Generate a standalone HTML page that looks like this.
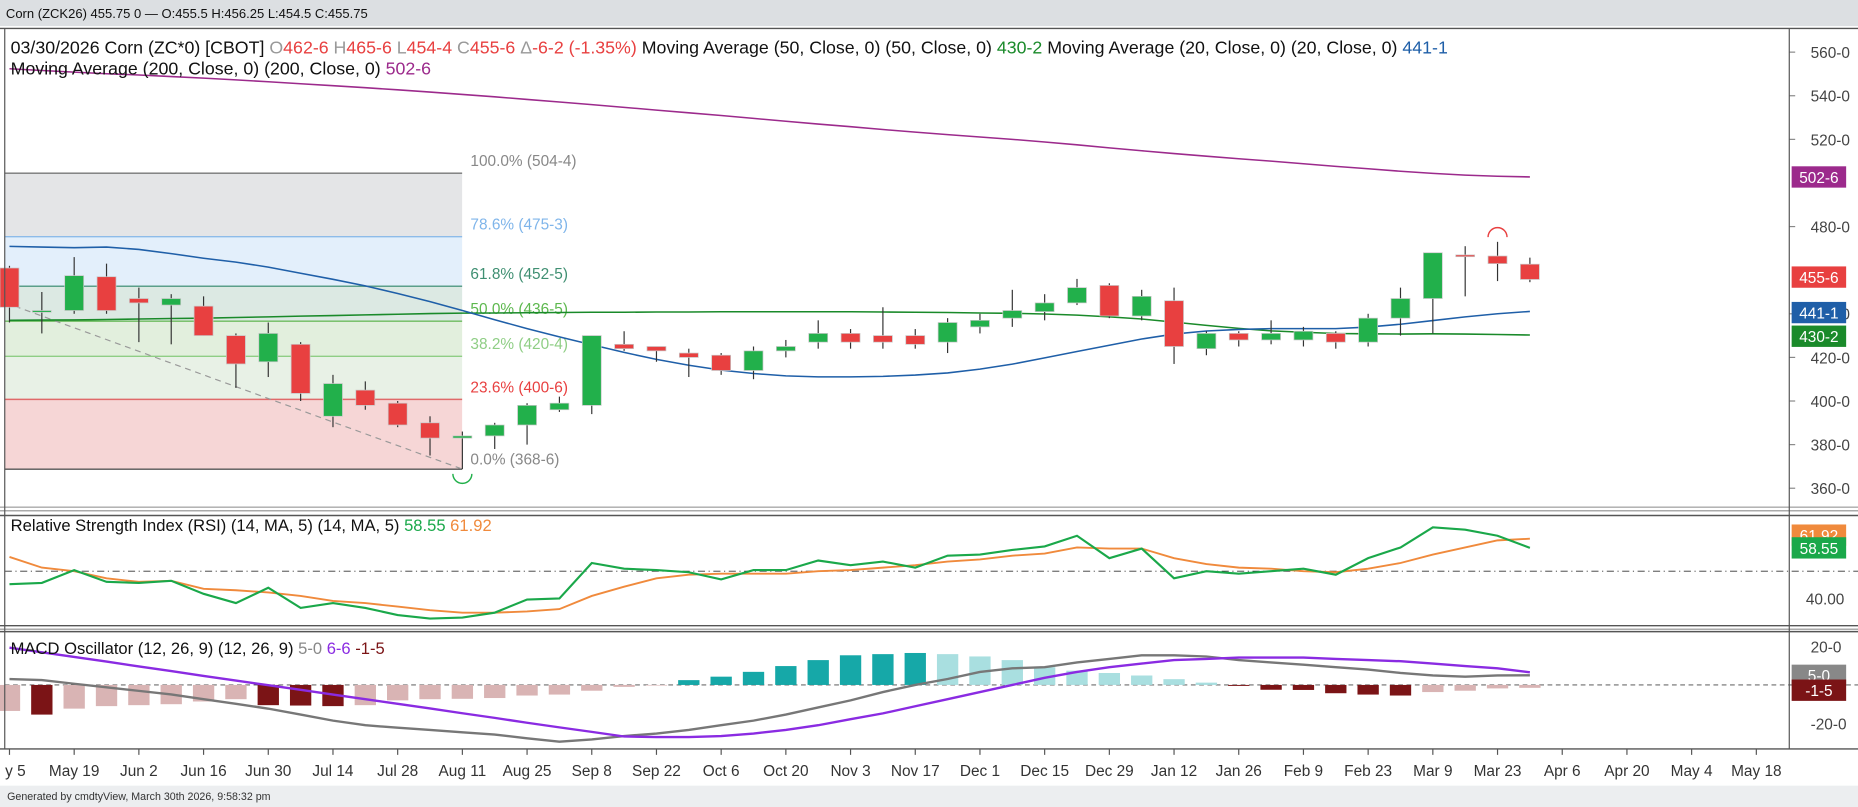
<!DOCTYPE html>
<html><head><meta charset="utf-8">
<style>
html,body{margin:0;padding:0;background:#fff;}
svg{display:block;font-family:"Liberation Sans",sans-serif;}
</style></head>
<body>
<svg id="c" width="1858" height="807" viewBox="0 0 1568 681" preserveAspectRatio="none" xmlns="http://www.w3.org/2000/svg">
<rect x="0" y="0" width="1568" height="681" fill="#fff"/>
<rect x="0" y="0" width="1568" height="22" fill="#dcdfe2"/>
<text x="5" y="15" font-size="11" fill="#111">Corn (ZCK26) 455.75 0 — O:455.5 H:456.25 L:454.5 C:455.75</text>
<g id="fib"></g>
<g id="main"></g>
<g id="rsi"></g>
<g id="macd"></g>
<g id="frame"></g>
<text x="9" y="45" font-size="15" fill="#111">03/30/2026 Corn (ZC*0) [CBOT] <tspan fill="#999">O</tspan><tspan fill="#e84040">462-6 </tspan><tspan fill="#999">H</tspan><tspan fill="#e84040">465-6 </tspan><tspan fill="#999">L</tspan><tspan fill="#e84040">454-4 </tspan><tspan fill="#999">C</tspan><tspan fill="#e84040">455-6 </tspan><tspan fill="#999">Δ</tspan><tspan fill="#e84040">-6-2 (-1.35%) </tspan>Moving Average (50, Close, 0)  (50, Close, 0)  <tspan fill="#1a8a2a">430-2 </tspan>Moving Average (20, Close, 0)  (20, Close, 0)  <tspan fill="#1f5fa8">441-1</tspan></text>
<text x="9" y="63" font-size="15" fill="#111">Moving Average (200, Close, 0)  (200, Close, 0)  <tspan fill="#9c2a8c">502-6</tspan></text>
<text x="9" y="448" font-size="14" fill="#111">Relative Strength Index (RSI) (14, MA, 5)  (14, MA, 5)  <tspan fill="#1aa84a">58.55</tspan> <tspan fill="#f08a3c">61.92</tspan></text>
<text x="9" y="552" font-size="14" fill="#111">MACD Oscillator (12, 26, 9)  (12, 26, 9)  <tspan fill="#888">5-0</tspan>  <tspan fill="#8a2be2">6-6</tspan>  <tspan fill="#7b1416">-1-5</tspan></text>
<rect x="0" y="663" width="1568" height="18" fill="#eceef0"/>
<text x="6" y="675" font-size="9" fill="#333">Generated by cmdtyView, March 30th 2026, 9:58:32 pm</text>
</svg>
<script>
const open_=[461,441,441.5,457,447,444,443.5,430,418,426,393,405,399,390,383,384,389,396,398,426,425,422,421,414,423,427,431,430,430,427,434,438,441,445,453,439,446,424,431,428,428,431,427,438,447,467,466.5,462.75];
const high_=[462,450,466,463,452,449,448,431,436,427,412,409,400,393,386,390,399,402,430,432,425,424,422,425,428,437,433,443,433,438,440,451,449,456,454,451,452,432,432,437,434,432,440,452,468,471,473,465.75];
const low_=[436,431,440,440,427,426,430,406,411,400,388,396,388,375,368.75,378,380,395,394,423,418,411,412,410,420,424,424,424,424,422,431,434,437,444,438,437,417,421,425,426,425,424,425,430,431,448,455,454.5];
const close_=[443,441.5,457.5,441.5,445,447,430,417,431,403.5,408,398,389,383,384,389,398,399,430,424,423,420,414,423,425,431,427,427,426,436,437,441.5,445,452,439,448,425,431,428,431,432,427,438,447,468,466.5,463,455.75];
const ma200=[552.4,551.6,550.8,550.1,549.5,548.8,548.1,547.3,546.4,545.5,544.6,543.7,542.7,541.7,540.6,539.5,538.3,537.1,535.9,534.7,533.4,532.2,530.9,529.6,528.3,527,525.8,524.5,523.3,522.2,521.1,520,518.8,517.5,516.1,514.8,513.5,512.3,511.1,510,508.8,507.6,506.5,505.4,504.4,503.6,503.1,502.75];
const ma20=[470.9,470.6,470.3,470.6,469.5,467.6,465.5,463.7,461.4,458.6,455.8,452.8,449.3,445.6,441.5,437.3,433.2,429.4,425.8,422.3,419.1,416.4,414.2,412.6,411.5,411.1,411.1,411.3,411.9,412.9,414.6,416.9,419.8,422.7,425.6,428.4,430.7,432.1,432.8,433.2,433.2,433.2,433.9,435.2,436.9,438.6,440,441.1];
const ma50=[437,437.1,437.2,437.4,437.6,437.8,438,438.3,438.6,438.9,439.2,439.5,439.8,440.1,440.3,440.4,440.5,440.6,440.7,440.7,440.8,440.8,440.9,440.9,440.9,440.9,440.9,440.8,440.7,440.6,440.4,440.2,439.9,439.4,438.6,437.6,436.2,434.7,433.3,432.2,431.5,431,430.8,430.7,430.8,430.7,430.5,430.25];
const rsiVals=[45.2,45.7,50.4,46.1,45.7,46.5,41.7,38.3,43.9,36.5,38.3,36.5,33.9,32.6,33.0,34.8,39.6,40.0,53.0,50.9,50.4,49.6,47.0,50.4,50.4,53.9,52.2,53.5,51.3,55.7,56.1,57.8,59.1,63.0,54.8,58.3,47.4,50.0,49.1,50.0,50.9,48.7,54.8,58.7,66.1,65.2,63.0,58.55];
const rsiMa=[55.2,51.3,50,47.4,46.1,46.5,43.5,43.0,42.2,40.9,39.1,38.3,37.0,35.7,34.8,34.8,35.2,36.1,40.9,44.3,47.4,48.7,49.1,49.1,49.1,50,50.4,51.3,52.2,53.5,54.3,55.7,56.5,58.7,58.3,58.3,54.8,52.6,51.3,50.9,50,49.6,50.9,53.0,56.1,58.7,61.3,61.92];
const macdLine=[3.1,2.5,0.6,-1.2,-3.1,-4.9,-7.4,-9.8,-12.3,-15.4,-18.5,-20.9,-22.2,-23.4,-24.6,-25.8,-27.7,-29.5,-28.3,-26.5,-25.2,-23.4,-20.9,-18.5,-15.4,-11.7,-8.0,-3.7,0,3.1,6.8,8.6,9.2,11.7,13.5,15.4,15.4,14.8,12.9,11.7,10.5,9.2,8.0,6.2,4.9,4.3,4.9,5.0];
const signalLine=[19.3,16.9,14.5,12.1,9.6,7.2,4.7,2.3,-0.1,-2.5,-5.0,-7.4,-9.8,-12.2,-14.7,-17.1,-19.6,-22.0,-24.4,-26.8,-27.1,-27.1,-26.5,-25.2,-23.4,-20.9,-17.8,-14.8,-11.1,-7.4,-3.7,0,3.7,6.8,9.2,11.1,12.9,13.5,14.2,14.2,14.2,13.5,12.9,12.3,11.1,9.8,8.6,6.6];
const histVals=[-13.5,-15.4,-12.3,-11,-10.5,-10,-8.6,-7.4,-10.5,-10.7,-11,-10.5,-8,-7.4,-7.2,-6.8,-5.5,-5,-3,-1,-0.3,2.5,4.3,6.8,9.8,12.9,15.4,16,16.6,16,14.8,12.9,9.2,7.4,6.2,4.9,3,1.2,-0.5,-2.5,-2.6,-4.3,-5,-5.5,-3.7,-3,-1.8,-1.5];
const dateLabels=["y 5","May 19","Jun 2","Jun 16","Jun 30","Jul 14","Jul 28","Aug 11","Aug 25","Sep 8","Sep 22","Oct 6","Oct 20","Nov 3","Nov 17","Dec 1","Dec 15","Dec 29","Jan 12","Jan 26","Feb 9","Feb 23","Mar 9","Mar 23","Apr 6","Apr 20","May 4","May 18"];
const priceTicks=[560,540,520,480,440,420,400,380,360];
const priceTickLabels=["560-0","540-0","520-0","480-0","440-0","420-0","400-0","380-0","360-0"];
const fibLevels=[504.5,475.375,452.625,436.625,420.5,400.75,368.75];
const fibLabels=["100.0% (504-4)","78.6% (475-3)","61.8% (452-5)","50.0% (436-5)","38.2% (420-4)","23.6% (400-6)","0.0% (368-6)"];

const NS="http://www.w3.org/2000/svg";
const X0=8, DX=27.3;
const xi=i=>X0+DX*i;
const yP=p=>44+(560-p)*1.84;
const yR=v=>482-(v-50)*2.3;
const yM=v=>578-v*1.625;
function el(tag,attrs,parent){const e=document.createElementNS(NS,tag);for(const k in attrs)e.setAttribute(k,attrs[k]);parent.appendChild(e);return e;}
const main=document.getElementById('main'),fib=document.getElementById('fib'),rsi=document.getElementById('rsi'),macd=document.getElementById('macd'),frame=document.getElementById('frame');

const fibFills=["#e4e5e7","#e3effb","#dce9e3","#e2efdd","#e8f1e6","#f6d6d6"];
const fibLine=["#777","#8dbbe9","#5b9f8a","#6dbb5e","#8fce85","#e06a6a","#555"];
const fibText=["#888","#7fb5ea","#3f8f72","#5db84e","#8fce85","#e84040","#888"];
for(let k=0;k<6;k++){const r=el('rect',{x:4,y:yP(fibLevels[k]),width:386,height:yP(fibLevels[k+1])-yP(fibLevels[k]),fill:fibFills[k]},fib);

}
for(let k=0;k<7;k++){const l=el('line',{x1:4,x2:390,y1:yP(fibLevels[k]),y2:yP(fibLevels[k]),stroke:fibLine[k],'stroke-width':1.2},fib);


const t=el('text',{x:397,y:yP(fibLevels[k])-(k==6?4:6),'font-size':13,fill:fibText[k]},fib);t.textContent=fibLabels[k];

}
const dl=el('line',{x1:4,y1:yP(close_[0])-4,x2:xi(14),y2:yP(low_[14]),stroke:'#999','stroke-dasharray':'5,4'},fib);



function poly(vals,yf,color,w,parent,name){const pts=vals.map((v,i)=>xi(i).toFixed(1)+','+yf(v).toFixed(1)).join(' ');const p=el('polyline',{points:pts,fill:'none',stroke:color,'stroke-width':w},parent);

return p;}
poly(ma200,yP,'#9c2a8c',1.3,main,'ma200-line');
poly(ma50,yP,'#1a8a2a',1.3,main,'ma50-line');
poly(ma20,yP,'#1f5fa8',1.3,main,'ma20-line');

for(let i=0;i<open_.length;i++){const x=xi(i);const up=close_[i]>=open_[i];
const w=el('line',{x1:x,x2:x,y1:yP(high_[i]),y2:yP(low_[i]),stroke:'#333','stroke-width':1},main);


const t=Math.min(yP(open_[i]),yP(close_[i])),h=Math.max(1.5,Math.abs(yP(open_[i])-yP(close_[i])));
const b=el('rect',{x:x-8,y:t,width:16,height:h,fill:up?'#22b04b':'#e84040',stroke:'#c8c8c8','stroke-width':0.6},main);

}
const a1=el('path',{d:`M${xi(14)-8},${yP(low_[14])+4} a8,8 0 0 0 16,0`,fill:'none',stroke:'#22b04b','stroke-width':1.2},main);


const a2=el('path',{d:`M${xi(46)-8},${yP(high_[46])-4} a8,8 0 0 1 16,0`,fill:'none',stroke:'#e84040','stroke-width':1.2},main);



priceTicks.forEach((p,k)=>{const t=el('text',{x:1528,y:yP(p)+5,'font-size':13,fill:'#444'},main);t.textContent=priceTickLabels[k];


el('line',{x1:1510,x2:1515,y1:yP(p),y2:yP(p),stroke:'#888'},main);});
function tag(y,txt,bg,parent,name){const g=el('g',{},parent);


el('rect',{x:1512,y:y-9,width:46,height:18,fill:bg},g);const t=el('text',{x:1535,y:y+5,'font-size':13,fill:'#fff','text-anchor':'middle'},g);t.textContent=txt;}
tag(yP(ma200[47]),'502-6','#9c2a8c',main,'ma200-value-tag');
tag(yP(close_[47])-2,'455-6','#e84040',main,'last-price-tag');
tag(yP(ma20[47])+1,'441-1','#1f5fa8',main,'ma20-value-tag');
tag(yP(ma50[47])+1,'430-2','#1a8a2a',main,'ma50-value-tag');

const rl=el('line',{x1:4,x2:1568,y1:yR(50),y2:yR(50),stroke:'#333','stroke-dasharray':'6,3,1,3','stroke-width':0.8},rsi);


poly(rsiMa,yR,'#f08a3c',1.6,rsi,'rsi-ma-line');
poly(rsiVals,yR,'#1aa84a',1.8,rsi,'rsi-line');
const r40=el('text',{x:1524,y:yR(40)+5,'font-size':13,fill:'#444'},rsi);r40.textContent='40.00';


tag(yR(61.92)-3,'61.92','#f08a3c',rsi,'rsi-ma-value-tag');
tag(yR(58.55),'58.55','#1aa84a',rsi,'rsi-value-tag');

const zl=el('line',{x1:4,x2:1568,y1:yM(0),y2:yM(0),stroke:'#444','stroke-dasharray':'4,3','stroke-width':0.8},macd);


histVals.forEach((v,i)=>{const prev=i>0?histVals[i-1]:v-1;let c;
if(v<0)c=v<prev?'#7b1416':'#d9b4b4';else c=v>=prev?'#16a8a8':'#a9dfe0';
const y=Math.min(yM(0),yM(v)),h=Math.abs(yM(v)-yM(0));
const b=el('rect',{x:xi(i)-9,y:y,width:18,height:Math.max(h,0.5),fill:c},macd);

});
poly(macdLine,yM,'#777',2,macd,'macd-line');
poly(signalLine,yM,'#8a2be2',2,macd,'signal-line');
[[20,'20-0'],[-20,'-20-0']].forEach(([v,s])=>{const t=el('text',{x:1528,y:yM(v)+5,'font-size':13,fill:'#444'},macd);t.textContent=s;

});
tag(yM(5),'5-0','#888',macd,'macd-value-tag');
tag(yM(-1.5)+2,'-1-5','#7b1416',macd,'histogram-value-tag');

[[428,'#aaa'],[431,'#aaa'],[435,'#555'],[528,'#555'],[531,'#aaa'],[533,'#555'],[632,'#555'],[24,'#555']].forEach(([y,c])=>{const l=el('line',{x1:0,x2:1568,y1:y,y2:y,stroke:c,'stroke-width':1.2},frame);

});
[[4],[1510]].forEach(([x])=>{const l=el('line',{x1:x,x2:x,y1:24,y2:632,stroke:'#555','stroke-width':1},frame);

});
dateLabels.forEach((d,k)=>{const x=xi(2*k);const t=el('text',{x:k==0?x+5:x,y:655,'font-size':13,fill:'#333','text-anchor':'middle'},frame);t.textContent=d;


el('line',{x1:x,x2:x,y1:632,y2:637,stroke:'#555'},frame);});
</script>
</body></html>
